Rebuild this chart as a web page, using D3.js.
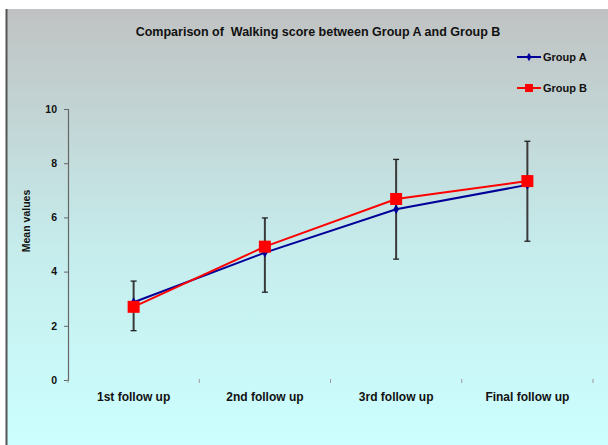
<!DOCTYPE html>
<html><head><meta charset="utf-8">
<script src="https://cdn.jsdelivr.net/npm/d3@7"></script>
<style>body{margin:0;background:#fff}svg{display:block}text{white-space:pre}</style>
</head><body><svg id="c" width="608" height="445"></svg>
<script>
const categories = ["1st follow up","2nd follow up","3rd follow up","Final follow up"];
const groupA = [2.87, 4.7, 6.3, 7.2];
const groupB = [2.7, 4.92, 6.68, 7.34];
const errLow = [1.82, 3.24, 4.46, 5.12];
const errHigh = [3.65, 5.98, 8.14, 8.81];
const yTicks = [0,2,4,6,8,10];
const seriesNames = ["Group A","Group B"];

const FF = "Liberation Sans, Arial";
const svg = d3.select("#c");
const defs = svg.append("defs");
const g = defs.append("linearGradient").attr("id","bg").attr("x1",0).attr("y1",0).attr("x2",0).attr("y2",1);
g.append("stop").attr("offset","0%").attr("stop-color","#c0c2c2");
g.append("stop").attr("offset","55%").attr("stop-color","#c6ecec");
g.append("stop").attr("offset","100%").attr("stop-color","#ccffff");
svg.append("rect").attr("x",7).attr("y",9).attr("width",601).attr("height",436).attr("fill","url(#bg)");
svg.append("line").attr("x1",6.5).attr("x2",6.5).attr("y1",9).attr("y2",445).attr("stroke","#555").attr("stroke-width",2);

const x = d3.scaleBand().domain(categories).range([68,593]);
const y = d3.scaleLinear().domain([0,10]).range([380,109]);

svg.append("text").attr("x",318).attr("y",36).attr("text-anchor","middle")
  .attr("font-family",FF).attr("font-weight","bold").attr("font-size",12.5)
  .attr("fill","#111").text("Comparison of  Walking score between Group A and Group B");

// y axis
const ya = svg.append("g").attr("transform","translate(68,0)")
  .call(d3.axisLeft(y).tickValues(yTicks).tickSize(4).tickPadding(7));
ya.select(".domain").attr("stroke","#666").attr("stroke-width",1.2);
ya.selectAll(".tick line").attr("stroke","#666");
ya.selectAll("text").attr("font-family",FF).attr("font-weight","bold").attr("font-size",10.5).attr("fill","#111");

// x axis labels
const xa = svg.append("g").attr("transform","translate(0,380)")
  .call(d3.axisBottom(x).tickSize(0).tickPadding(12));
xa.select(".domain").remove();
xa.selectAll("text").attr("font-family",FF).attr("font-weight","bold").attr("font-size",12).attr("fill","#111");
const bounds = categories.map(c=>x(c)).concat([x.range()[1]]);
svg.append("g").selectAll("line").data(bounds).join("line")
  .attr("x1",d=>d).attr("x2",d=>d).attr("y1",379).attr("y2",383).attr("stroke","#999");

svg.append("text").attr("transform","translate(30,221) rotate(-90)").attr("text-anchor","middle")
  .attr("font-family",FF).attr("font-weight","bold").attr("font-size",10.5)
  .attr("fill","#111").text("Mean values");

const cx = c => x(c) + x.bandwidth()/2;
const line = d3.line().x((d,i)=>cx(categories[i])).y(d=>y(d));

// error bars
const eb = svg.append("g").selectAll("g").data(categories).join("g");
eb.append("line").attr("x1",d=>cx(d)).attr("x2",d=>cx(d)).attr("y1",(d,i)=>y(errLow[i])).attr("y2",(d,i)=>y(errHigh[i])).attr("stroke","#3a3a3a").attr("stroke-width",2);
eb.append("line").attr("x1",d=>cx(d)-3).attr("x2",d=>cx(d)+3).attr("y1",(d,i)=>y(errLow[i])).attr("y2",(d,i)=>y(errLow[i])).attr("stroke","#222").attr("stroke-width",1.3);
eb.append("line").attr("x1",d=>cx(d)-3).attr("x2",d=>cx(d)+3).attr("y1",(d,i)=>y(errHigh[i])).attr("y2",(d,i)=>y(errHigh[i])).attr("stroke","#222").attr("stroke-width",1.3);

// Group A
svg.append("path").attr("d",line(groupA)).attr("fill","none").attr("stroke","#000099").attr("stroke-width",2);
svg.append("g").selectAll("path").data(groupA).join("path")
  .attr("d",d3.symbol(d3.symbolDiamond,28)()).attr("transform",(d,i)=>`translate(${cx(categories[i])},${y(d)})`).attr("fill","#000099");
// Group B
svg.append("path").attr("d",line(groupB)).attr("fill","none").attr("stroke","#ff0000").attr("stroke-width",2);
svg.append("g").selectAll("rect").data(groupB).join("rect")
  .attr("x",(d,i)=>cx(categories[i])-6).attr("y",d=>y(d)-6).attr("width",12).attr("height",12).attr("fill","#ff0000");

// legend
const colors = ["#000099","#ff0000"];
const lg = svg.append("g").selectAll("g").data(seriesNames).join("g")
  .attr("transform",(d,i)=>`translate(517,${57+i*31})`);
lg.append("line").attr("x1",0).attr("x2",24).attr("stroke",(d,i)=>colors[i]).attr("stroke-width",2);
lg.each(function(d,i){
  const s = d3.select(this);
  if(i===0) s.append("path").attr("d",d3.symbol(d3.symbolDiamond,20)()).attr("transform","translate(12,0)").attr("fill",colors[i]);
  else s.append("rect").attr("x",8).attr("y",-4).attr("width",8).attr("height",8).attr("fill",colors[i]);
});
lg.append("text").attr("x",26).attr("y",4).attr("font-family",FF).attr("font-weight","bold").attr("font-size",11).attr("fill","#111").text(d=>d);
</script></body></html>
